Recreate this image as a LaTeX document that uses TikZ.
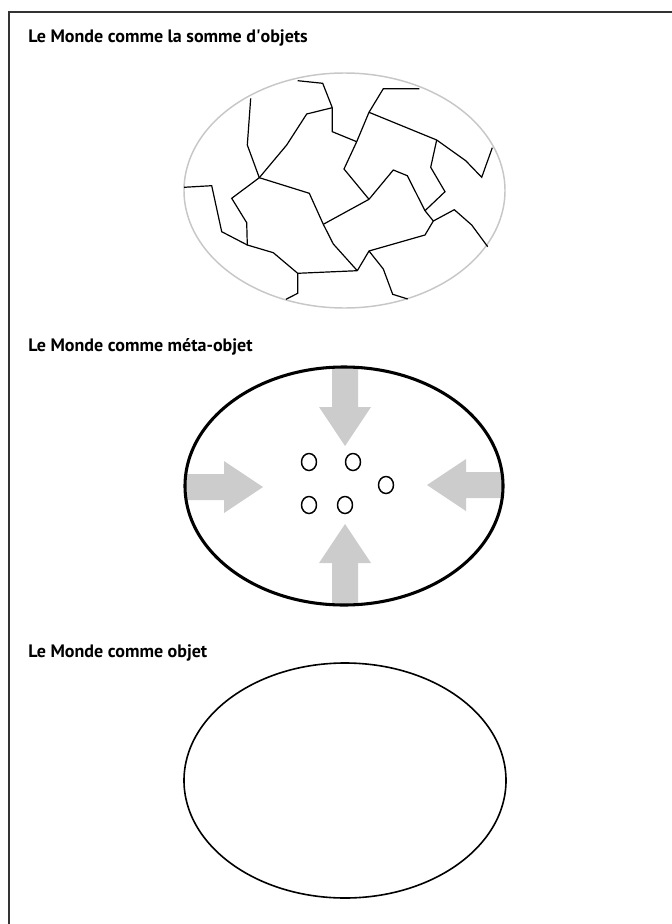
\documentclass[tikz,border=0pt]{standalone}
\usepackage{fontspec}
\setmainfont{PT Sans}
\usetikzlibrary{positioning}

\begin{document}
\begin{tikzpicture}[x=0.75pt,y=-0.75pt,
    title/.style={anchor=base west,inner sep=0pt,font=\bfseries\fontsize{13.5}{16}\selectfont},
    crack/.style={draw=black,line width=0.9pt},
    pebble/.style={draw=black,line width=1.1pt},
    push/.style={fill=black!20,draw=none}]
      \useasboundingbox (0,0) rectangle (671,924);
      \draw[black!80,line width=1.1pt] (9,930) -- (9,12) -- (680,12);
      % titles
      \node[title] (t1) at (28,43) {Le Monde comme la somme d\textquotesingle objets};
      \node[title] (t2) at (28,351) {Le Monde comme méta-objet};
      \node[title] (t3) at (28,657) {Le Monde comme objet};
      % world 1
      \coordinate (w1) at (344.5,190.5);
      \draw[black!22,line width=1.1pt] (w1) ellipse [x radius=160.5, y radius=117.5];
      \coordinate (j1) at (332.3,107.7);
      \coordinate (j2) at (259.3,177.7);
      \coordinate (j3) at (369,112.3);
      \coordinate (j4) at (436.7,140);
      \coordinate (j5) at (369,199.3);
      \coordinate (j6) at (425,210.7);
      \coordinate (j7) at (323.3,224.3);
      \coordinate (j8) at (247.3,245);
      \coordinate (j9) at (357.3,270.7);
      \coordinate (j10) at (369,251);
      \coordinate (j11) at (433.3,221);
      \coordinate (j12) at (297.7,273.3);
      \coordinate (j13) at (356.7,141.7);
      \draw[crack] (297.7,80.7) -- (322.7,83.3) -- (j1);
      \draw[crack] (j1) -- (306.7,114) -- (286.7,145) -- (j2);
      \draw[crack] (j1) -- (332.3,131.7) -- (j13);
      \draw[crack] (419.3,88.7) -- (383.3,88.7) -- (j3);
      \draw[crack] (j3) -- (j13) -- (344,169) -- (j5);
      \draw[crack] (j3) -- (j4);
      \draw[crack] (j4) -- (465.7,160.7) -- (481.7,177.3) -- (492.3,147.7);
      \draw[crack] (j4) -- (430.7,167.3) -- (445,191.7) -- (j6);
      \draw[crack] (j6) -- (407.3,175.7) -- (393.3,170) -- (j5);
      \draw[crack] (j5) -- (j7);
      \draw[crack] (j2) -- (309.3,193.3) -- (j7);
      \draw[crack] (250.7,98.3) -- (247.3,145) -- (j2);
      \draw[crack] (j2) -- (231.7,198.3) -- (246.7,222.7) -- (j8);
      \draw[crack] (184,187.3) -- (211.7,185.7) -- (221.7,231.7) -- (j8);
      \draw[crack] (j8) -- (273.3,252.7) -- (j12) -- (j9);
      \draw[crack] (j7) -- (333.3,244) -- (j9);
      \draw[crack] (j9) -- (j10) -- (425,235) -- (j11) -- (j6);
      \draw[crack] (j11) -- (454.3,209.7) -- (471.7,225) -- (487.7,246.7);
      \draw[crack] (j10) -- (383.3,269) -- (392.7,294.3) -- (407.7,299);
      \draw[crack] (j12) -- (297.7,293.3) -- (286,299.3);
      % world 2
      \coordinate (w2) at (344,486);
      \begin{scope}
        \clip (w2) ellipse [x radius=159, y radius=119];
        \fill[push] (332,360) -- (358,360) -- (358,407) -- (371,407) -- (345,446) -- (319,407) -- (332,407) -- cycle;
        \fill[push] (332,612) -- (358,612) -- (358,563) -- (371,563) -- (345,524) -- (319,563) -- (332,563) -- cycle;
        \fill[push] (178,474) -- (224,474) -- (224,461) -- (263,487) -- (224,513) -- (224,500) -- (178,500) -- cycle;
        \fill[push] (512,472) -- (466,472) -- (466,459) -- (427,485) -- (466,511) -- (466,498) -- (512,498) -- cycle;
      \end{scope}
      \draw[black,line width=2.3pt] (w2) ellipse [x radius=159, y radius=119];
      \draw[pebble] (309,462) ellipse [x radius=7.5, y radius=8.5];
      \draw[pebble] (353,462) ellipse [x radius=7.5, y radius=8.5];
      \draw[pebble] (386,485) ellipse [x radius=7.5, y radius=8.5];
      \draw[pebble] (309,505) ellipse [x radius=7.5, y radius=8.5];
      \draw[pebble] (345,505) ellipse [x radius=7.5, y radius=8.5];
      % world 3
      \coordinate (w3) at (345,780.5);
      \draw[black,line width=1.2pt] (w3) ellipse [x radius=161, y radius=117.5];
    \end{tikzpicture}
\end{document}
